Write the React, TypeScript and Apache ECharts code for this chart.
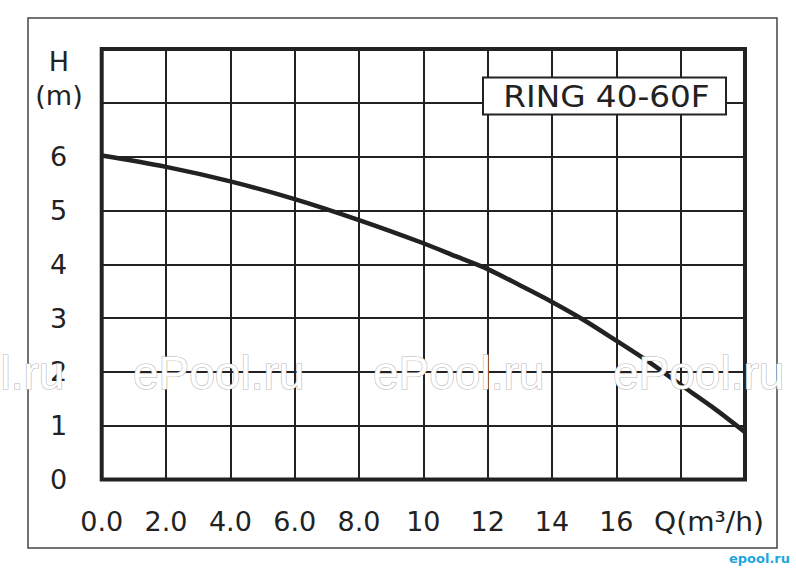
import React, { useEffect, useRef } from "react";
import * as echarts from "echarts";

const flowQ = [0, 2, 4, 6, 8, 10, 11, 12, 13, 14, 15, 16, 17, 18, 19, 20];
const headH = [6.02, 5.81, 5.54, 5.21, 4.82, 4.39, 4.15, 3.91, 3.61, 3.3, 2.96, 2.58, 2.19, 1.76, 1.34, 0.88];
const xTickLabels: Record<number, string> = {
  0: "0.0", 2: "2.0", 4: "4.0", 6: "6.0", 8: "8.0", 10: "10", 12: "12", 14: "14", 16: "16",
};
const yTickLabels = ["0", "1", "2", "3", "4", "5", "6"];
const modelName = "RING 40-60F";
const watermark = "ePool.ru";
const watermarkX = [-107, 133, 373, 613];

const DARK = "#222";
const FONT = '"DejaVu Sans", sans-serif';

export default function App() {
  const ref = useRef<HTMLDivElement>(null);
  useEffect(() => {
    if (!ref.current) return;
    const chart = echarts.init(ref.current, null, { renderer: "svg" });
    const seriesData = flowQ.map((q, i) => [q, headH[i]]);
    const txt = (text: string, x: number, y: number, size: number, extra: any = {}) => ({
      type: "text",
      x,
      y,
      z: 100,
      ...extra.el,
      style: {
        text,
        x: 0,
        y: 0,
        font: `${size}px ${FONT}`,
        fill: DARK,
        align: "center",
        verticalAlign: "middle",
        textAlign: "center",
        textVerticalAlign: "middle",
        ...extra.style,
      },
    });
    const graphics: any[] = [
      {
        type: "rect",
        z: 1,
        shape: { x: 28, y: 18, width: 749, height: 530 },
        style: { fill: "none", stroke: "#444", lineWidth: 1.5 },
      },
      txt("H", 59, 61, 27),
      txt("(m)", 59, 95, 27),
      txt("Q(m³/h)", 709, 521, 27, { el: { scaleX: 1.04 } }),
      {
        type: "rect",
        z: 100,
        shape: { x: 483, y: 77.5, width: 243, height: 37 },
        style: { fill: "#fff", stroke: DARK, lineWidth: 2 },
      },
      txt(modelName, 606.5, 96, 30, { el: { scaleX: 1.09, z: 101 } }),
      ...watermarkX.map((x) => ({
        type: "text",
        x,
        y: 373,
        z: 200,
        style: {
          text: watermark,
          x: 0,
          y: 0,
          font: `46px "Liberation Sans", Arial, sans-serif`,
          fill: "#fff",
          stroke: "#b8b8b8",
          lineWidth: 1.2,
          align: "left",
          verticalAlign: "middle",
          textAlign: "left",
          textVerticalAlign: "middle",
        },
      })),
      txt("epool.ru", 759.5, 558, 13, {
        style: { font: `bold 13px ${FONT}`, fill: "#1fa6dc" },
      }),
    ];

    chart.setOption({
      animation: false,
      backgroundColor: "#fff",
      grid: {
        left: 101.7,
        right: 796 - 745,
        top: 49,
        bottom: 571 - 479.5,
        show: true,
        borderColor: DARK,
        borderWidth: 4,
        backgroundColor: "transparent",
        outerBoundsMode: "none",
        containLabel: false,
        z: 10,
      },
      xAxis: {
        type: "value",
        min: 0,
        max: 20,
        interval: 2,
        axisLine: { show: false },
        axisTick: { show: false },
        splitLine: { show: true, lineStyle: { color: DARK, width: 2 } },
        axisLabel: {
          margin: 42,
          verticalAlign: "middle",
          fontFamily: "DejaVu Sans",
          fontSize: 27,
          color: DARK,
          formatter: (v: number) => xTickLabels[v] ?? "",
        },
      },
      yAxis: {
        type: "value",
        min: 0,
        max: 8,
        interval: 1,
        axisLine: { show: false },
        axisTick: { show: false },
        splitLine: { show: true, lineStyle: { color: DARK, width: 2 } },
        axisLabel: {
          margin: 43,
          align: "center",
          verticalAlign: "middle",
          padding: [6, 0, 0, 0],
          fontFamily: "DejaVu Sans",
          fontSize: 27,
          color: DARK,
          formatter: (v: number) => yTickLabels[v] ?? "",
        },
      },
      series: [
        {
          type: "line",
          data: seriesData,
          smooth: 0.3,
          symbol: "none",
          z: 20,
          lineStyle: { color: DARK, width: 4.5 },
        },
      ],
      graphic: graphics,
    });
    return () => chart.dispose();
  }, []);
  return (
    <div
      ref={ref}
      style={{ position: "absolute", left: 0, top: 0, width: 796, height: 571 }}
    />
  );
}
